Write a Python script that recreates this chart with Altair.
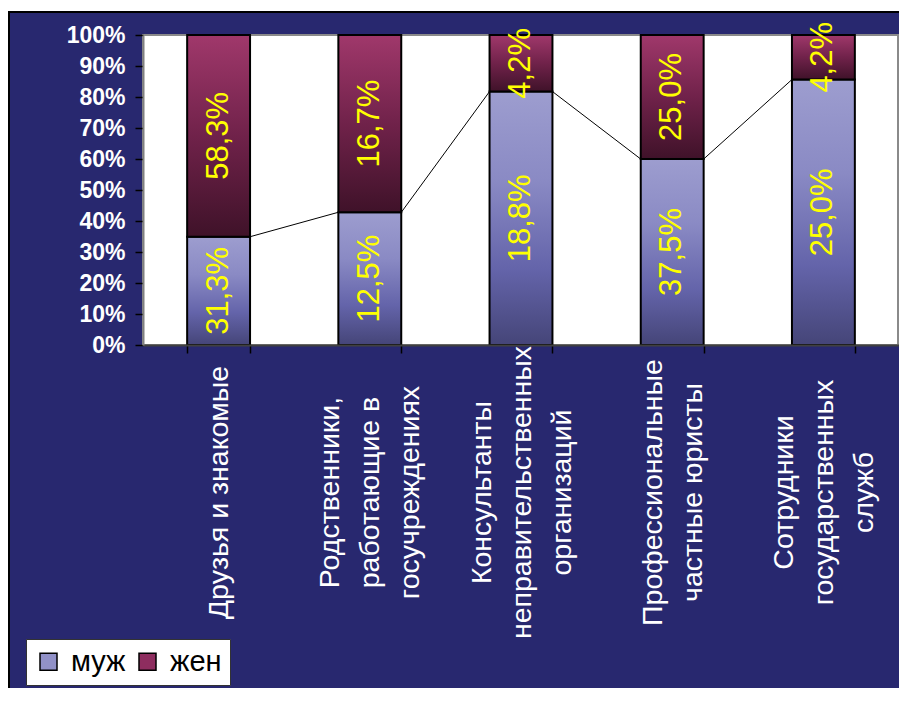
import altair as alt
import pandas as pd

# ---- data ----
categories = [
    "Друзья и знакомые",
    "Родственники,|работающие в|госучреждениях",
    "Консультанты|неправительственных|организаций",
    "Профессиональные|частные юристы",
    "Сотрудники|государственных|служб",
]
men = [31.3, 12.5, 18.8, 37.5, 25.0]
women = [58.3, 16.7, 4.2, 25.0, 4.2]
series = ["муж", "жен"]
y_ticks = [0, 0.1, 0.2, 0.3, 0.4, 0.5, 0.6, 0.7, 0.8, 0.9, 1.0]

NAVY = "#28286f"
FONT = "Liberation Sans"
W, H = 756, 310
LH = 40

df = pd.DataFrame({"cat": categories, "m": men, "f": women})

men_grad = alt.LinearGradient(
    gradient="linear", x1=0, y1=0, x2=0, y2=1,
    stops=[alt.GradientStop(offset=0, color="#9d9dcf"),
           alt.GradientStop(offset=0.35, color="#8a8ac4"),
           alt.GradientStop(offset=0.7, color="#6464aa"),
           alt.GradientStop(offset=1, color="#454578")])
women_grad = alt.LinearGradient(
    gradient="linear", x1=0, y1=0, x2=0, y2=1,
    stops=[alt.GradientStop(offset=0, color="#a0386b"),
           alt.GradientStop(offset=0.5, color="#70224a"),
           alt.GradientStop(offset=1, color="#3f1229")])

n_lines = "length(split(datum.value, '|'))"
label_offset = {
    "condition": [
        {"test": f"{n_lines} == 3", "value": -LH},
        {"test": f"{n_lines} == 2", "value": -LH / 2},
    ],
    "value": 0,
}

x_enc = alt.X(
    "cat:N", sort=categories, title=None,
    scale=alt.Scale(paddingInner=0.584, paddingOuter=0.292),
    axis=alt.Axis(
        labelExpr="split(datum.label, '|')",
        labelAngle=270, labelAlign="center", labelBaseline="middle",
        labelPadding=139, labelLineHeight=LH, labelLimit=1000,
        labelOffset=label_offset,
        labelOverlap=False, labelFont=FONT, labelFontSize=28.5,
        labelColor="white", tickBand="extent", tickSize=8,
        tickColor="black", tickWidth=1.5, domainColor="#404040",
        domainWidth=2, zindex=2),
)
y_enc_axis = alt.Axis(
    values=y_ticks, format=".0%", labelFont=FONT, labelFontSize=23,
    labelFontWeight="bold", labelColor="white", labelPadding=10,
    tickSize=8, tickColor="black", tickWidth=1.5, domainColor="#808080",
    domainWidth=2, grid=False, zindex=2)
y_scale = alt.Scale(domain=[0, 1], nice=False)

calc = dict(
    mtop="datum.m / (datum.m + datum.f)",
    zero="0",
    one="1",
    mmid="datum.m / (datum.m + datum.f) / 2",
    fmid="(1 + datum.m / (datum.m + datum.f)) / 2",
    mlab="replace(format(datum.m, '.1f'), '.', ',') + '%'",
    flab="replace(format(datum.f, '.1f'), '.', ',') + '%'",
)

base = alt.Chart(df).transform_calculate(**calc)

one_row = alt.Data(values=[{"k": 1}])

bg = alt.Chart(one_row).mark_rect(fill=NAVY, stroke="black", strokeWidth=2).encode(
    x=alt.value(-134), x2=alt.value(W + 40), y=alt.value(-23), y2=alt.value(H + 400))
plot_bg = alt.Chart(one_row).mark_rect(fill="white", stroke="#8a8a8a", strokeWidth=2).encode(
    x=alt.value(0), x2=alt.value(W - 1), y=alt.value(0), y2=alt.value(H))

men_bars = base.mark_bar(fill=men_grad, stroke="black", strokeWidth=2).encode(
    x=x_enc,
    y=alt.Y("zero:Q", scale=y_scale, axis=y_enc_axis, title=None),
    y2="mtop:Q")
women_bars = base.mark_bar(fill=women_grad, stroke="black", strokeWidth=2).encode(
    x=x_enc,
    y=alt.Y("mtop:Q", scale=y_scale, axis=y_enc_axis, title=None),
    y2="one:Q")

lines = base.transform_window(
    next_cat="lead(cat)", next_m="lead(mtop)"
).transform_filter("datum.next_cat != null").mark_rule(
    color="black", strokeWidth=1, xOffset=31.5, x2Offset=-31.5
).encode(
    x=x_enc, x2="next_cat:N",
    y=alt.Y("mtop:Q", scale=y_scale, axis=y_enc_axis, title=None),
    y2="next_m:Q")

text_style = dict(angle=270, align="center", baseline="middle",
                  font=FONT, fontSize=31, color="#ffff00")
men_text = base.mark_text(**text_style).encode(
    x=x_enc, y=alt.Y("mmid:Q", scale=y_scale, axis=y_enc_axis, title=None),
    text="mlab:N")
women_text = base.mark_text(**text_style).encode(
    x=x_enc, y=alt.Y("fmid:Q", scale=y_scale, axis=y_enc_axis, title=None),
    text="flab:N")

legend_layer = alt.Chart(alt.Data(values=[{"s": s} for s in series])).mark_square(
    size=256, stroke="black", strokeWidth=1.5, opacity=1, filled=True
).encode(
    x=alt.value(-3000), y=alt.value(-3000),
    color=alt.Color(
        "s:N",
        scale=alt.Scale(domain=series, range=["#9191c8", "#8e2d5f"]),
        legend=alt.Legend(
            title=None, orient="none", legendX=-117, legendY=604,
            direction="horizontal", symbolType="square", symbolSize=289,
            symbolStrokeColor="black", symbolStrokeWidth=1.5,
            symbolOpacity=1, labelFont=FONT, labelFontSize=29,
            labelColor="black", labelOffset=8, columnPadding=7,
            fillColor="white", strokeColor="#333333", padding=8,
            zindex=3)),
)

chart = alt.layer(
    bg, plot_bg, men_bars, women_bars, lines, men_text, women_text, legend_layer
).properties(
    width=W, height=H,
    padding={"left": 135, "top": 27, "right": 0, "bottom": 343},
    autosize=alt.AutoSizeParams(type="none"),
).configure(background="white").configure_view(strokeWidth=0)

chart.save("out.html", embed_options={"renderer": "svg", "actions": False})
